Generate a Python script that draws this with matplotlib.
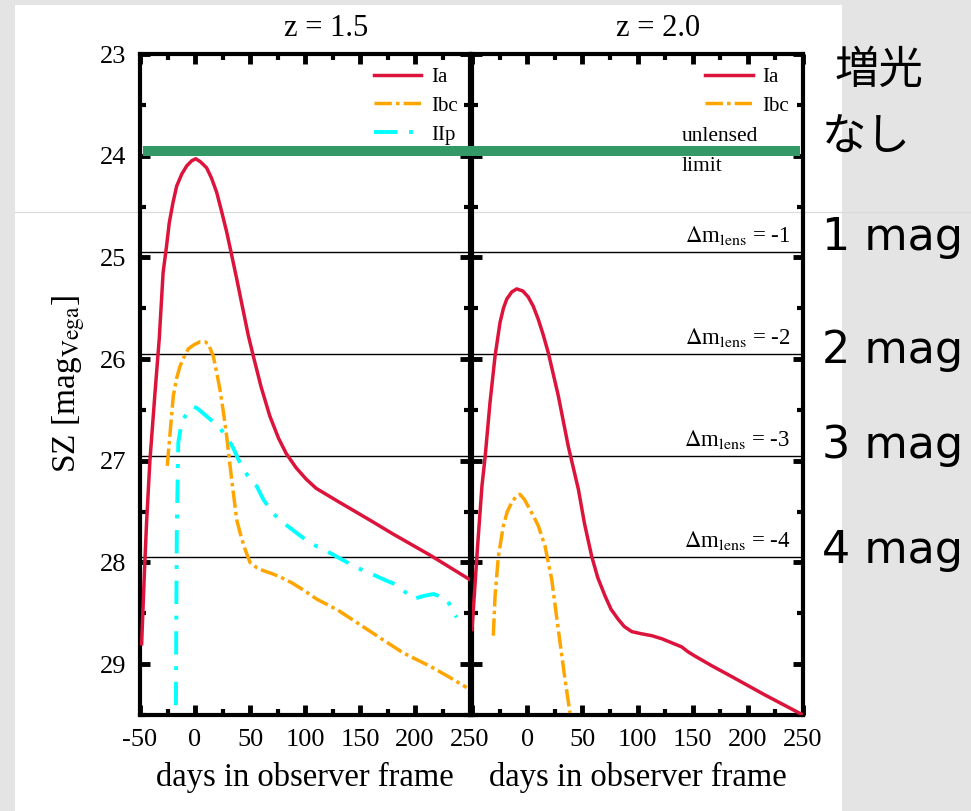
import matplotlib
matplotlib.use("Agg")
import matplotlib.pyplot as plt
from matplotlib.lines import Line2D
from matplotlib.patches import Rectangle
from matplotlib.ticker import MultipleLocator

plt.rcParams["font.family"] = ["Liberation Serif", "DejaVu Serif"]
plt.rcParams["mathtext.fontset"] = "stix"

# SZ-band light curves, z = 1.5
IA_Z15_DAYS = [-48.5, -46, -44, -41, -36.5, -32.5, -29, -26, -23.4, -20, -16.7, -12, -7.5, -3,
               0.6, 5, 10.6, 15, 19.7, 24, 28.8, 33, 37.9, 43, 48.5, 53, 60, 68, 76, 83, 92,
               101, 110, 130, 160, 180, 214, 250]
IA_Z15_MAG = [28.8, 28.1, 27.6, 27.0, 26.35, 25.8, 25.15, 24.9, 24.66, 24.46, 24.30, 24.18,
              24.10, 24.05, 24.03, 24.06, 24.12, 24.22, 24.36, 24.54, 24.75, 24.96, 25.21,
              25.48, 25.77, 25.97, 26.27, 26.56, 26.78, 26.93, 27.07, 27.18, 27.27, 27.40,
              27.59, 27.72, 27.93, 28.17]
IBC_Z15_DAYS = [-25.2, -23.4, -21.5, -19.7, -16.5, -13.6, -10, -6.1, -1, 4.5, 9, 12.1, 16.6,
                19.5, 22.7, 25.8, 28.8, 33.3, 37.9, 42, 45.5, 50, 56, 62, 70, 77, 88, 98.5,
                110.6, 130, 147, 168, 189.4, 213.6, 230, 247]
IBC_Z15_MAG = [27.05, 26.82, 26.58, 26.36, 26.18, 26.07, 25.98, 25.90, 25.86, 25.83, 25.83,
               25.85, 25.97, 26.12, 26.30, 26.52, 26.76, 27.18, 27.58, 27.75, 27.87, 28.0,
               28.05, 28.08, 28.11, 28.14, 28.2, 28.27, 28.36, 28.47, 28.59, 28.74, 28.89,
               29.02, 29.12, 29.23]
IIP_Z15_DAYS = [-17.5, -17.0, -16.5, -15.2, -13, -10.6, -7, -4.5, -1.5, 1.5, 6, 13.6, 21,
                28.8, 35, 40.9, 48, 56.1, 62.1, 71.2, 80.3, 86.4, 104.5, 116.6, 130, 147,
                160, 174.2, 183.3, 198.5, 207.6, 216.7, 228.8, 237.9]
IIP_Z15_MAG = [29.9, 28.5, 27.64, 26.82, 26.68, 26.59, 26.53, 26.49, 26.47, 26.48, 26.52,
               26.59, 26.66, 26.76, 26.88, 27.02, 27.15, 27.25, 27.38, 27.52, 27.61, 27.66,
               27.81, 27.87, 27.95, 28.05, 28.11, 28.18, 28.22, 28.36, 28.33, 28.31, 28.36,
               28.54]

# SZ-band light curves, z = 2.0
IA_Z20_DAYS = [-50, -45, -41, -38, -33.7, -29.1, -24.6, -21.5, -18.5, -14, -9.5, -4, 1, 5.5,
               10.1, 14.5, 19.2, 28.2, 37.3, 46.4, 52, 58.5, 64, 70.6, 76, 82.6, 88, 94.8,
               103, 112.9, 122, 131, 140, 146, 152, 168, 185, 215, 250]
IA_Z20_MAG = [28.66, 27.85, 27.25, 26.95, 26.43, 25.97, 25.64, 25.5, 25.41, 25.34, 25.31,
              25.33, 25.39, 25.48, 25.61, 25.76, 25.94, 26.36, 26.86, 27.28, 27.62, 27.94,
              28.15, 28.33, 28.46, 28.56, 28.63, 28.68, 28.70, 28.72, 28.75, 28.79, 28.83,
              28.88, 28.92, 29.02, 29.12, 29.3, 29.5]
IBC_Z20_DAYS = [-30.7, -29.1, -26.1, -21.6, -18, -14, -10, -6.5, -2.5, 1, 5.5, 10.1, 16.2,
                22.3, 28.2, 34.3, 38.8]
IBC_Z20_MAG = [28.72, 28.33, 27.94, 27.64, 27.5, 27.41, 27.35, 27.33, 27.38, 27.45, 27.54,
               27.64, 27.84, 28.17, 28.66, 29.15, 29.48]

UNLENSED_LIMIT = 23.95
DELTA_M_LENS = [-1, -2, -3, -4]
MAG_LABELS = ["1 mag", "2 mag", "3 mag", "4 mag"]
X_TICKS = [-50, 0, 50, 100, 150, 200, 250]
Y_TICKS = [23, 24, 25, 26, 27, 28, 29]

RED = "#dc143c"
ORANGE = "#ffa500"
CYAN = "#00ffff"
GREEN = "#339966"
IBC_DASH = (0, (5, 1.2, 1, 1.2))
IIP_DASH = (0, (6, 3, 1, 3))

W, H = 971, 811
fig = plt.figure(figsize=(W / 100, H / 100), dpi=100, facecolor="#e4e4e4")
fig.add_artist(Rectangle((15 / W, 0), (842 - 15) / W, 1 - 5 / H, transform=fig.transFigure,
                         facecolor="white", edgecolor="none", zorder=-3))
fig.add_artist(Line2D([15 / W, 1], [1 - 212 / H] * 2, transform=fig.transFigure,
                      color="#dadada", lw=0.8, zorder=-2))

ax1 = fig.add_axes([140 / W, 1 - 715 / H, 330 / W, 661 / H])
ax2 = fig.add_axes([472 / W, 1 - 715 / H, 331 / W, 661 / H], sharey=ax1)

for ax in (ax1, ax2):
    ax.set_facecolor("none")
    ax.set_xlim(-50, 250)
    ax.set_ylim(29.5, 23)
    for sp in ax.spines.values():
        sp.set_linewidth(3)
    ax.xaxis.set_minor_locator(MultipleLocator(25))
    ax.yaxis.set_minor_locator(MultipleLocator(0.5))
    ax.tick_params(which="both", direction="in", top=True, right=True)
    ax.tick_params(which="major", length=7, width=3.5, labelsize=19, pad=10)
    ax.tick_params(which="minor", length=4, width=3)
    ax.set_xlabel("days in observer frame", fontsize=23.5, labelpad=8)
    for dm in DELTA_M_LENS:
        ax.axhline(UNLENSED_LIMIT - dm, color="black", lw=1.0, zorder=1.5)

ax1.set_xticks(X_TICKS, [str(t) for t in X_TICKS])
ax2.set_xticks(X_TICKS, ["" if t == -50 else str(t) for t in X_TICKS])
ax1.set_yticks(Y_TICKS, [str(t) for t in Y_TICKS])
ax2.tick_params(labelleft=False)
ax1.set_ylabel(r"SZ [mag$_{\rm Vega}$]", fontsize=24, labelpad=9)

legend_kw = dict(loc="upper right", frameon=False, fontsize=15, handlelength=2.3,
                 handletextpad=0.45, labelspacing=0.45, borderpad=0, borderaxespad=0)

# z = 1.5 panel
ax1.plot(IA_Z15_DAYS, IA_Z15_MAG, color=RED, lw=2.5, label="Ia", zorder=3)
ax1.plot(IBC_Z15_DAYS, IBC_Z15_MAG, color=ORANGE, lw=2.5, ls=IBC_DASH, label="Ibc", zorder=3)
ax1.plot(IIP_Z15_DAYS, IIP_Z15_MAG, color=CYAN, lw=2.8, ls=IIP_DASH, label="IIp", zorder=3)
ax1.text(0.564, 1.039, "z = 1.5", transform=ax1.transAxes, ha="center", va="center",
         fontsize=22)
ax1.legend(bbox_to_anchor=(0.962, 0.98), **legend_kw)

# z = 2.0 panel
ax2.plot(IA_Z20_DAYS, IA_Z20_MAG, color=RED, lw=2.5, label="Ia", zorder=3)
ax2.plot(IBC_Z20_DAYS, IBC_Z20_MAG, color=ORANGE, lw=2.5, ls=IBC_DASH, label="Ibc", zorder=3)
ax2.text(0.562, 1.039, "z = 2.0", transform=ax2.transAxes, ha="center", va="center",
         fontsize=22)
ax2.legend(bbox_to_anchor=(0.958, 0.98), **legend_kw)

ytr = ax2.get_yaxis_transform()
ax2.text(0.634, 23.81, "unlensed", transform=ytr, ha="left", va="center", fontsize=15.5)
ax2.text(0.634, 24.11, "limit", transform=ytr, ha="left", va="center", fontsize=15.5)
for dm in DELTA_M_LENS:
    ax2.text(0.961, UNLENSED_LIMIT - dm - 0.05, rf"$\Delta$m$_{{\rm lens}}$ = {dm}",
             transform=ytr, ha="right", va="bottom", fontsize=16.5)

# unlensed detection limit across both panels
ax1.axhline(UNLENSED_LIMIT, xmin=3 / 330, xmax=1, color=GREEN, lw=7.2,
            solid_capstyle="butt", clip_on=False, zorder=10)
ax2.axhline(UNLENSED_LIMIT, xmin=-0.012, xmax=(800 - 472) / 331, color=GREEN, lw=7.2,
            solid_capstyle="butt", clip_on=False, zorder=10)

# magnification annotations beside the plot
jp = ["Noto Sans CJK JP", "DejaVu Sans"]
fig.text(835 / W, 1 - 70 / H, "増光", family=jp, fontsize=32, ha="left", va="center")
fig.text(822 / W, 1 - 138 / H, "なし", family=jp, fontsize=32, ha="left", va="center")
for label, base in zip(MAG_LABELS, [250, 363, 458, 563]):
    fig.text(822 / W, 1 - base / H, label, family="DejaVu Sans", fontsize=32,
             ha="left", va="baseline")

fig.savefig("out.png", dpi=100, facecolor=fig.get_facecolor())
